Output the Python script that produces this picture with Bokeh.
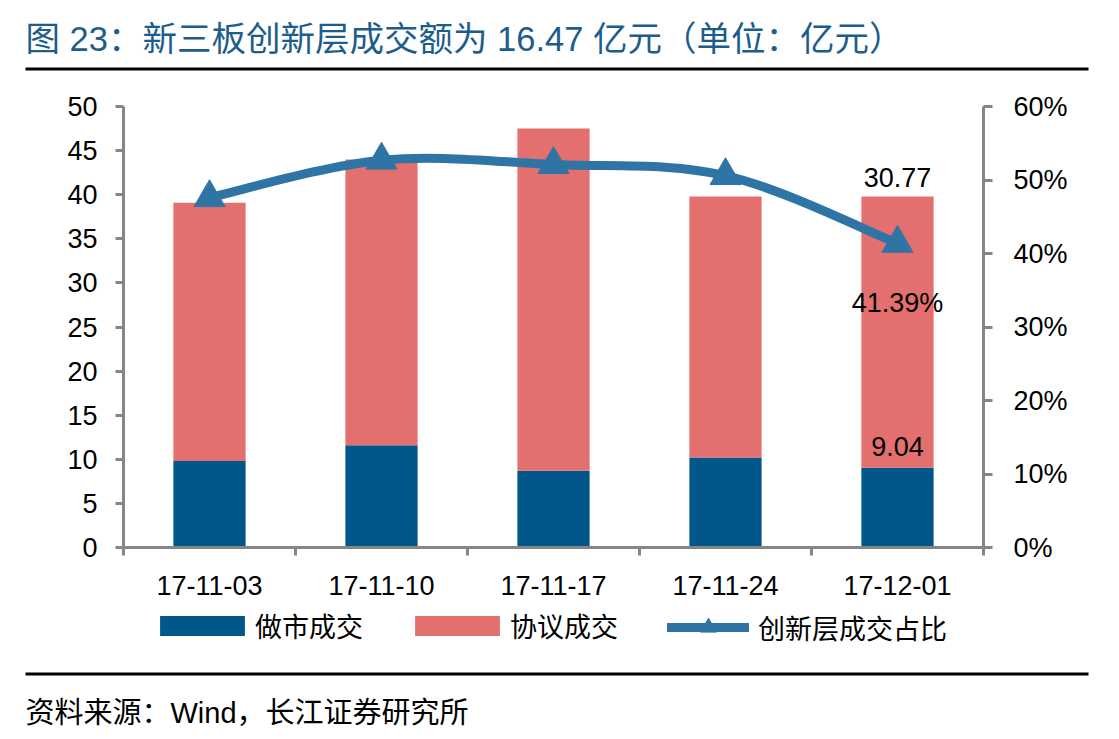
from bokeh.plotting import figure
from bokeh.models import (Range1d, LinearAxis, FixedTicker, Legend, LegendItem, Label,
                          BoxAnnotation, ColumnDataSource, PrintfTickFormatter)
from bokeh.core.properties import value
from bokeh.embed import file_html
from bokeh.resources import INLINE

# ---------------- data ----------------
categories = ["17-11-03", "17-11-10", "17-11-17", "17-11-24", "17-12-01"]
market_making = [9.8, 11.6, 8.7, 10.2, 9.04]      # 做市成交 (亿元)
negotiated = [29.3, 32.4, 38.8, 29.6, 30.77]      # 协议成交 (亿元)
share_pct = [47.6, 52.7, 52.1, 50.6, 41.39]       # 创新层成交占比 (%)
left_ticks = [0, 5, 10, 15, 20, 25, 30, 35, 40, 45, 50]
right_ticks = [0, 10, 20, 30, 40, 50, 60]

title_text = "图 23：新三板创新层成交额为 16.47 亿元（单位：亿元）"
source_text = "资料来源：Wind，长江证券研究所"
series_names = ["做市成交", "协议成交", "创新层成交占比"]

# ---------------- style / layout (pixels) ----------------
BLUE = "#01578A"
SALMON = "#E3706F"
LINE = "#2E74A5"
TITLE_C = "#1C5D8C"
AXIS_C = "#868686"
NUM_FONT = "Liberation Sans"
CJK_FONT = "Noto Sans CJK SC"
MIX_FONT = "Liberation Sans, Noto Sans CJK SC"

W, H = 1119, 739
FL, FR, FT, FB = 123, 983, 106, 547     # plot area edges (px from top-left)
LMAX, RMAX = left_ticks[-1], right_ticks[-1]
n = len(categories)
xs = [i + 0.5 for i in range(n)]
totals = [a + b for a, b in zip(market_making, negotiated)]

# the whole canvas is the frame; axes sit at fixed positions inside it
x_rng = Range1d(-FL / (FR - FL) * n, (W - FL) / (FR - FL) * n)
y_rng = Range1d(-(H - FB) / (FB - FT) * LMAX, FB / (FB - FT) * LMAX)
pct_rng = Range1d(-(H - FB) / (FB - FT) * RMAX, FB / (FB - FT) * RMAX)

p = figure(width=W, height=H, output_backend="svg", toolbar_location=None,
           x_range=x_rng, y_range=y_rng, min_border=0)
p.extra_y_ranges = {"pct": pct_rng}
p.xgrid.visible = False
p.ygrid.visible = False
p.outline_line_color = None
p.background_fill_color = "white"
p.border_fill_color = "white"

src = ColumnDataSource(dict(x=xs, mm=market_making, neg=negotiated, tot=totals,
                            pct=share_pct))

bars = p.vbar_stack(["mm", "neg"], x="x", width=0.42, source=src,
                    color=[BLUE, SALMON], line_color=None)

# smooth line through share points (Catmull-Rom -> cubic Bezier)
pts = list(zip(xs, share_pct))
bz = dict(x0=[], y0=[], x1=[], y1=[], cx0=[], cy0=[], cx1=[], cy1=[])
for i in range(n - 1):
    p0 = pts[i - 1] if i > 0 else pts[i]
    p1 = pts[i]
    p2 = pts[i + 1]
    p3 = pts[i + 2] if i + 2 < n else pts[i + 1]
    bz["x0"].append(p1[0]); bz["y0"].append(p1[1])
    bz["x1"].append(p2[0]); bz["y1"].append(p2[1])
    bz["cx0"].append(p1[0] + (p2[0] - p0[0]) / 6)
    bz["cy0"].append(p1[1] + (p2[1] - p0[1]) / 6)
    bz["cx1"].append(p2[0] - (p3[0] - p1[0]) / 6)
    bz["cy1"].append(p2[1] - (p3[1] - p1[1]) / 6)
curve = p.bezier(x0="x0", y0="y0", x1="x1", y1="y1", cx0="cx0", cy0="cy0",
                 cx1="cx1", cy1="cy1", source=ColumnDataSource(bz),
                 line_color=LINE, line_width=9, line_cap="round",
                 y_range_name="pct")
tri = p.scatter("x", "pct", source=src, marker="triangle", size=31, color=LINE,
                y_range_name="pct")

# data labels on last category
last = n - 1
p.text(x=[xs[last]], y=[totals[last]], text=[f"{negotiated[last]:.2f}"],
       text_font=value(NUM_FONT), text_font_size="27px", text_align="center",
       text_baseline="alphabetic", y_offset=-19, text_color="black")
p.text(x=[xs[last]], y=[market_making[last]], text=[f"{market_making[last]:.2f}"],
       text_font=value(NUM_FONT), text_font_size="27px", text_align="center",
       text_baseline="alphabetic", y_offset=-21, text_color="black")
p.text(x=[xs[last]], y=[share_pct[last]], text=[f"{share_pct[last]:.2f}%"],
       text_font=value(NUM_FONT), text_font_size="27px", text_align="center",
       text_baseline="middle", y_offset=60, text_color="black",
       y_range_name="pct")

# axes
def style_axis(ax, tick_out):
    ax.axis_line_color = AXIS_C
    ax.axis_line_width = 3
    ax.major_tick_line_color = AXIS_C
    ax.major_tick_line_width = 3
    ax.major_tick_in = 0
    ax.major_tick_out = tick_out
    ax.minor_tick_line_color = None
    ax.major_label_text_font = NUM_FONT
    ax.major_label_text_font_size = "27px"
    ax.major_label_text_color = "black"

yax = p.yaxis[0]
yax.ticker = FixedTicker(ticks=left_ticks)
yax.fixed_location = 0
yax.bounds = (0, LMAX)
style_axis(yax, 8)
yax.major_label_standoff = 18

rax = LinearAxis(y_range_name="pct", ticker=FixedTicker(ticks=right_ticks),
                 formatter=PrintfTickFormatter(format="%d%%"),
                 fixed_location=n, bounds=(0, RMAX))
style_axis(rax, 9)
rax.major_label_standoff = 21
p.add_layout(rax, "right")

xax = p.xaxis[0]
xax.ticker = FixedTicker(ticks=xs, minor_ticks=list(range(n + 1)))
xax.major_label_overrides = {x: c for x, c in zip(xs, categories)}
xax.fixed_location = 0
xax.bounds = (0, n)
style_axis(xax, 8)
xax.major_tick_line_color = None
xax.minor_tick_line_color = AXIS_C
xax.minor_tick_line_width = 3
xax.minor_tick_in = 0
xax.minor_tick_out = 8
xax.major_label_standoff = 20

# legends (screen coordinates: origin at bottom-left of the canvas, y up)
leg_specs = [
    (series_names[0], [bars[0]], 149, 106, 25, -2, H - 645),
    (series_names[1], [bars[1]], 404, 106, 25, -2, H - 645),
    (series_names[2], [curve, tri], 667, 82, 40, 9, H - 647),
]
for label, rends, lx, gw, gh, so, ly in leg_specs:
    lg = Legend(items=[LegendItem(label=label, renderers=rends)],
                orientation="horizontal", location=(lx, ly),
                label_text_font=CJK_FONT, label_text_font_size="27px",
                label_text_color="black", label_height=28,
                glyph_width=gw, glyph_height=gh, label_standoff=so, spacing=0,
                border_line_color=None, background_fill_alpha=0,
                padding=0, margin=0)
    p.add_layout(lg, "center")

p.add_layout(Label(x=25, y=H - 38, x_units="screen", y_units="screen",
                   text=title_text, text_font=MIX_FONT, text_font_size="34.5px",
                   text_color=TITLE_C, text_baseline="middle"))
p.add_layout(Label(x=25, y=H - 712, x_units="screen", y_units="screen",
                   text=source_text, text_font=MIX_FONT, text_font_size="29px",
                   text_color="black", text_baseline="middle"))
for top_px in (67, 672):
    p.add_layout(BoxAnnotation(left=25, right=1088, bottom=H - top_px - 3,
                               top=H - top_px, left_units="screen",
                               right_units="screen", bottom_units="screen",
                               top_units="screen", fill_color="black",
                               fill_alpha=1, line_color=None))

open("out.html", "w").write(file_html(p, INLINE))
